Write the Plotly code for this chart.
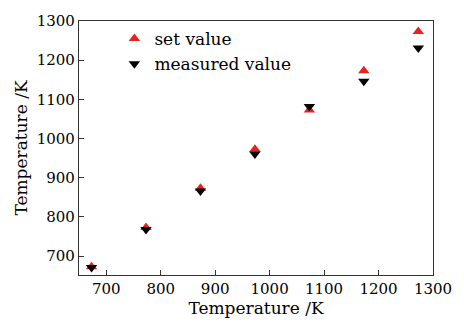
import plotly.graph_objects as go

x_set = [673, 773, 873, 973, 1073, 1173, 1273]
y_set = [673, 773, 873, 973, 1073, 1173, 1273]
y_meas = [671, 768, 866, 961, 1082, 1146, 1231]

tickfont = dict(family="DejaVu Serif", size=15, color="black")
font = dict(family="DejaVu Serif", size=17, color="black")

fig = go.Figure()
fig.add_trace(go.Scatter(x=x_set, y=y_set, mode="markers", name="set value",
                         marker=dict(symbol="triangle-up", size=10, color="#e8221f")))
fig.add_trace(go.Scatter(x=x_set, y=y_meas, mode="markers", name="measured value",
                         marker=dict(symbol="triangle-down", size=10, color="black")))

axis_common = dict(showgrid=False, zeroline=False, showline=True, linecolor="#333",
                   linewidth=1.3, mirror=True, ticks="inside", ticklen=5,
                   tickcolor="#333", tickwidth=1.3, tickfont=tickfont)
fig.update_layout(
    width=464, height=326, margin=dict(l=79, r=22, t=18, b=51),
    plot_bgcolor="white", paper_bgcolor="white", font=font,
    xaxis=dict(range=[650, 1300], dtick=100, tick0=700,
               title=dict(text="Temperature /K", font=font, standoff=2), **axis_common),
    yaxis=dict(range=[652, 1300], dtick=100, tick0=700,
               title=dict(text="Temperature /K", font=font, standoff=4), **axis_common),
    legend=dict(x=0.10, y=1.0, xanchor="left", yanchor="top", bgcolor="rgba(0,0,0,0)",
                font=font, itemwidth=30, tracegroupgap=0),
    showlegend=True,
)
fig.write_html("out.html")
